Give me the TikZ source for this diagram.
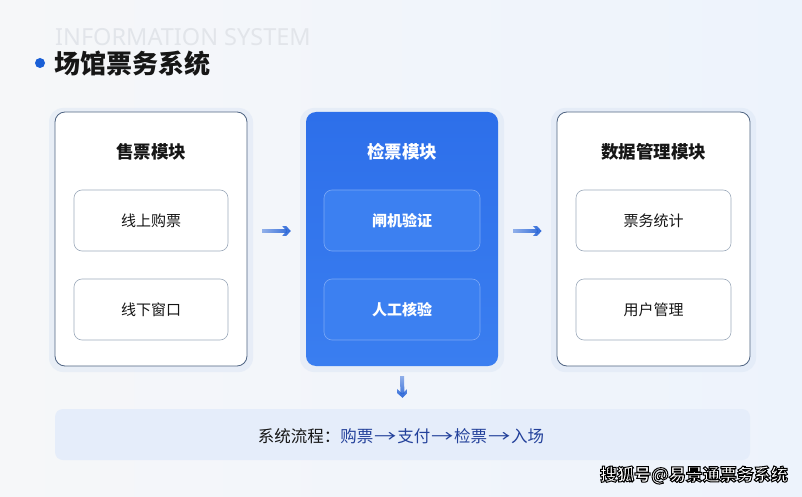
\documentclass[tikz,border=0pt]{standalone}
\usepackage{fontspec}
\setmainfont{Noto Sans CJK SC}
\newfontfamily\latinfont{Noto Sans}
\usetikzlibrary{arrows.meta,fadings,calc}
\definecolor{bgA}{HTML}{F6F7F9}
\definecolor{bgB}{HTML}{EDF3FC}
\definecolor{ink}{HTML}{161616}
\definecolor{navy}{HTML}{22409A}
\definecolor{blueM}{HTML}{2D6FEA}
\definecolor{blueL}{HTML}{3A7EF0}
\definecolor{blueIn}{HTML}{3C80F1}
\definecolor{blueInB}{HTML}{7BA8F6}
\definecolor{edgeD}{HTML}{4F6482}
\definecolor{edgeL}{HTML}{9DAABB}
\definecolor{arrowC}{HTML}{2A66D8}
\definecolor{dotC}{HTML}{1A5FD6}
\definecolor{ghost}{HTML}{E2E5EA}
\definecolor{barC}{HTML}{E5EDFA}
\definecolor{glowC}{HTML}{DCE6F5}
\tikzfading[name=fadeL, left color=transparent!55, right color=transparent!0]
\tikzfading[name=fadeT, top color=transparent!55, bottom color=transparent!0]
\newcommand{\flowarr}{\hspace{0.05em}\scalebox{1.35}[1]{→}\hspace{0.05em}}
\tikzset{
  modbox/.style={rounded corners=10pt, minimum width=192pt, minimum height=254pt},
  whitebox/.style={modbox, fill=white, draw=edgeD, line width=0.8pt},
  bluebox/.style={modbox, top color=blueM, bottom color=blueL, draw=none},
  glow/.style={rounded corners=14pt, fill=glowC, opacity=0.5},
  subbox/.style={rounded corners=8pt, minimum height=61pt, font=\fontsize{15}{18}\selectfont},
  subw/.style={subbox, fill=white, draw=edgeL, line width=0.6pt, text=ink},
  subb/.style={subbox, fill=blueIn, draw=blueInB, line width=0.6pt, text=white, font=\fontsize{15}{18}\selectfont\bfseries},
  modtitle/.style={font=\fontsize{17.5}{20}\selectfont\bfseries, text=ink},
  flowarrow/.style={draw=arrowC, line width=4pt, -{Straight Barb[length=6.5pt,width=14pt,line width=3pt]}},
}
\begin{document}
\begin{tikzpicture}[x=1pt,y=-1pt]
\useasboundingbox (0,0) rectangle (802,497);
\shade[left color=bgA, right color=bgB] (0,0) rectangle (802,497);

% header
\node[anchor=west, inner sep=0pt, text=ghost, font=\latinfont\fontsize{23.5}{26}\selectfont] (ghostT) at (55,37) {INFORMATION SYSTEM};
\fill[dotC] (40,63) circle (5pt);
\node[anchor=west, inner sep=0pt, text=ink, font=\fontsize{26}{30}\selectfont\bfseries] (title) at (54,64) {场馆票务系统};

% soft glows behind the modules
\fill[glow] (49,108) rectangle (253,372);
\fill[glow] (300,108) rectangle (504,372);
\fill[glow] (551,108) rectangle (756,372);

% modules
\node[whitebox] (sale) at (151,239) {};
\node[bluebox] (check) at (402,239) {};
\node[whitebox, minimum width=193pt] (data) at (653.5,239) {};

\node[modtitle] (saleT) at (151,152) {售票模块};
\node[modtitle, text=white] (checkT) at (402,152) {检票模块};
\node[modtitle] (dataT) at (653.5,152) {数据管理模块};

\node[subw, minimum width=154pt] (s1) at (151,220.5) {线上购票};
\node[subw, minimum width=154pt] (s2) at (151,309.5) {线下窗口};
\node[subb, minimum width=156pt] (c1) at (402,220.5) {闸机验证};
\node[subb, minimum width=156pt] (c2) at (402,309.5) {人工核验};
\node[subw, minimum width=155pt] (d1) at (653.5,220.5) {票务统计};
\node[subw, minimum width=155pt] (d2) at (653.5,309.5) {用户管理};

% flow bar
\node[rounded corners=8pt, fill=barC, minimum width=695pt, minimum height=51pt] (flow) at (402.5,434.5) {};
\node[font=\fontsize{16.5}{19}\selectfont, text=ink] (flowT) at (401,436) {系统流程：\textcolor{navy}{购票\flowarr 支付\flowarr 检票\flowarr 入场}};

% arrows
\draw[flowarrow, path fading=fadeL] ([xshift=15pt,yshift=8pt]sale.east) -- ([xshift=-15pt,yshift=8pt]check.west);
\draw[flowarrow, path fading=fadeL] ([xshift=15pt,yshift=8pt]check.east) -- ([xshift=-15pt,yshift=8pt]data.west);
\draw[flowarrow, path fading=fadeT] ([yshift=-10pt]check.south) -- ([yshift=11pt]flow.north);

% watermark
\node[anchor=east, inner sep=0pt, font=\fontsize{17}{20}\selectfont\bfseries] (wm) at (788,475)
  {\color{white}\special{pdf:code 0 0 0 RG 1.0 w 2 Tr}搜狐号@易景通票务系统\special{pdf:code 0 Tr}};
\end{tikzpicture}
\end{document}
